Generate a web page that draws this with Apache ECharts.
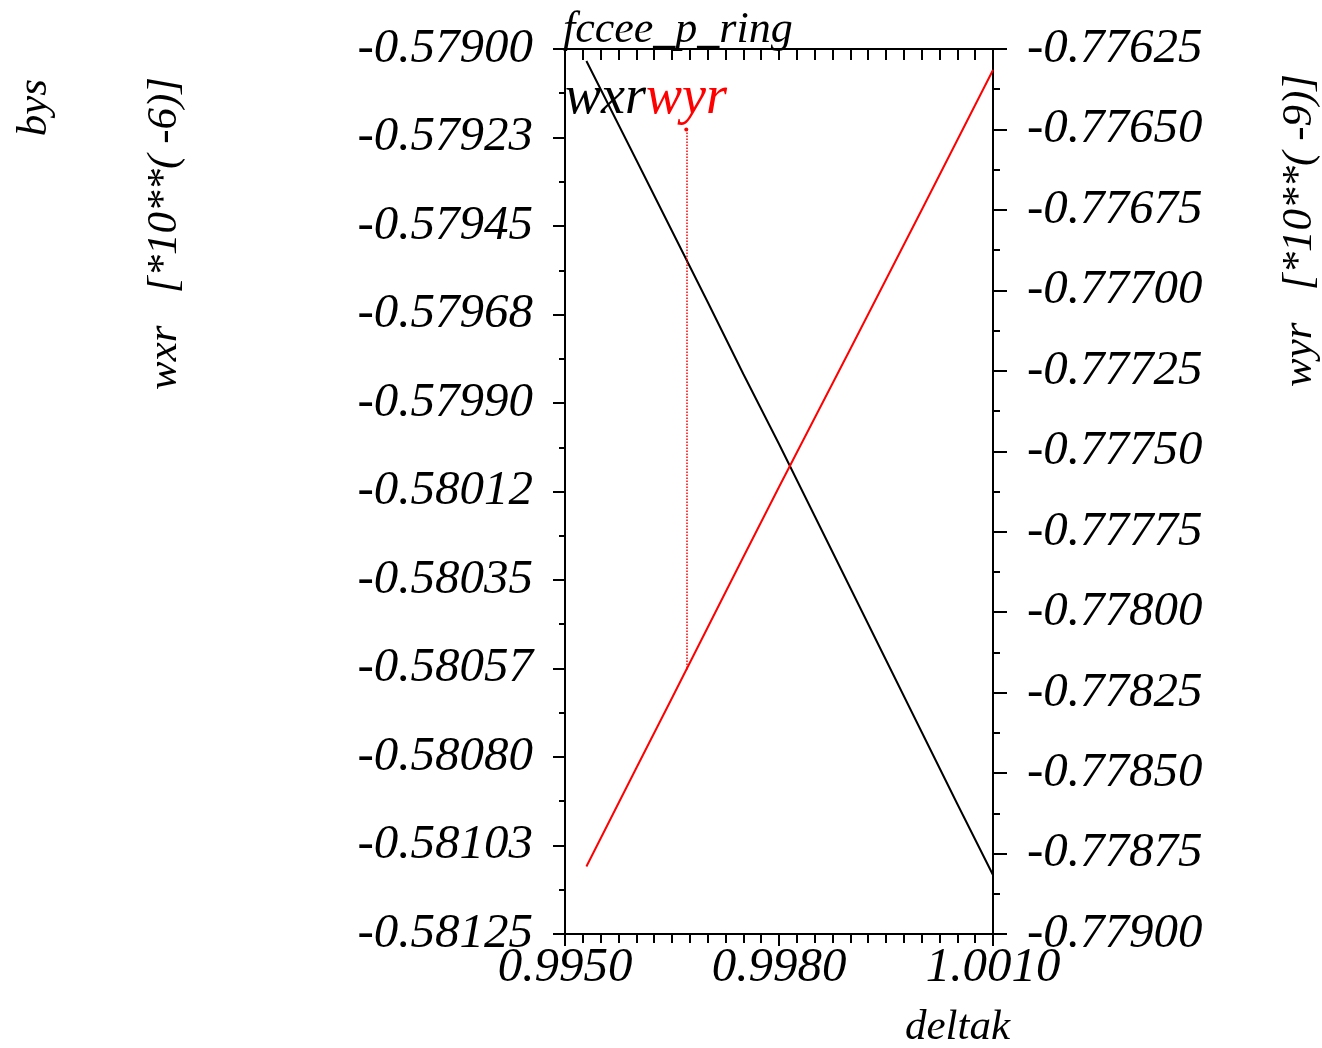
<!DOCTYPE html>
<html>
<head>
<meta charset="utf-8">
<script src="https://cdn.jsdelivr.net/npm/echarts@6/dist/echarts.min.js"></script>
<style>
  html, body { margin: 0; padding: 0; background: #fff; }
  #chart { width: 1322px; height: 1048px; }
</style>
</head>
<body>
<div id="chart"></div>
<script>
// deltak values and the two series
const deltak = [0.9953, 0.9960, 0.9965, 0.9970, 0.9975, 0.9980, 0.9985, 0.9990, 0.9995, 1.0000, 1.0005, 1.0010];
const wxr = [-0.5790305, -0.5792822, -0.5794627, -0.5796432, -0.5798263, -0.5800042,
             -0.5801873, -0.5803703, -0.5805534, -0.5807364, -0.5809195, -0.5811000];
const wyr = [-0.7787903, -0.7784842, -0.7782667, -0.7780476, -0.7778285, -0.7776110,
             -0.7773966, -0.7771822, -0.7769662, -0.7767503, -0.7765328, -0.7763153];

// tick labels (bottom to top / left to right)
const leftLabels = ['-0.58125', '-0.58103', '-0.58080', '-0.58057', '-0.58035', '-0.58012',
                    '-0.57990', '-0.57968', '-0.57945', '-0.57923', '-0.57900'];
const rightLabels = ['-0.77900', '-0.77875', '-0.77850', '-0.77825', '-0.77800', '-0.77775',
                     '-0.77750', '-0.77725', '-0.77700', '-0.77675', '-0.77650', '-0.77625'];
const xLabels = ['0.9950', '0.9980', '1.0010'];

// dotted pointer from the "wyr" label down to the curve
const pointerX = 0.9967;
const pointerTop = -0.7765;
const pointerBottom = -0.77818;

const FONT = '"Liberation Serif", "Times New Roman", serif';
const labelStyle = { fontFamily: FONT, fontStyle: 'italic', fontSize: 49, color: '#000' };
const axisLine = { show: true, lineStyle: { color: '#000', width: 2 } };
const tickLine = { color: '#000', width: 2 };

const chart = echarts.init(document.getElementById('chart'));

const xMin = 0.995, xMax = 1.001, xStep = 0.003, xMinorStep = 0.00025;
const lMin = -0.58125, lMax = -0.579, lStep = 0.000225;
const rMin = -0.779, rMax = -0.77625, rStep = 0.00025;

const pick = (labels, min, step) => (v) => labels[Math.round((v - min) / step)] || '';

chart.setOption({
  animation: false,
  backgroundColor: '#fff',
  grid: { left: 565, right: 329, top: 49, bottom: 114, containLabel: false },
  xAxis: [
    {
      type: 'value', position: 'bottom',
      min: xMin, max: xMax, interval: xStep,
      axisLine: axisLine,
      axisTick: { show: true, inside: false, length: 12, lineStyle: tickLine },
      minorTick: { show: true, splitNumber: 12, length: 9, lineStyle: tickLine },
      splitLine: { show: false },
      axisLabel: Object.assign({ margin: 10, interval: 0, showMinLabel: true, showMaxLabel: true,
        formatter: pick(xLabels, xMin, xStep) }, labelStyle)
    },
    {
      // top frame: ticks only, labels kept invisible
      type: 'value', position: 'top',
      min: xMin, max: xMax, interval: xMinorStep,
      axisLine: axisLine,
      axisTick: { show: true, inside: true, interval: 0, length: 11, lineStyle: tickLine },
      splitLine: { show: false },
      axisLabel: { show: true, interval: 0, fontSize: 8, color: 'rgba(0,0,0,0)', formatter: () => '.' }
    }
  ],
  yAxis: [
    {
      type: 'value', position: 'left',
      min: lMin, max: lMax, interval: lStep,
      axisLine: axisLine,
      axisTick: { show: true, inside: false, length: 12, lineStyle: tickLine },
      minorTick: { show: true, splitNumber: 2, length: 6, lineStyle: tickLine },
      splitLine: { show: false },
      axisLabel: Object.assign({ margin: 32, interval: 0, showMinLabel: true, showMaxLabel: true,
        formatter: pick(leftLabels, lMin, lStep) }, labelStyle)
    },
    {
      type: 'value', position: 'right',
      min: rMin, max: rMax, interval: rStep,
      axisLine: axisLine,
      axisTick: { show: true, inside: false, length: 14, lineStyle: tickLine },
      minorTick: { show: true, splitNumber: 2, length: 7, lineStyle: tickLine },
      splitLine: { show: false },
      axisLabel: Object.assign({ margin: 34, interval: 0, showMinLabel: true, showMaxLabel: true,
        formatter: pick(rightLabels, rMin, rStep) }, labelStyle)
    }
  ],
  series: [
    {
      name: 'wxr', type: 'line', xAxisIndex: 0, yAxisIndex: 0,
      data: deltak.map((d, i) => [d, wxr[i]]),
      showSymbol: false, symbol: 'none',
      lineStyle: { color: '#000', width: 2 }
    },
    {
      name: 'wyr', type: 'line', xAxisIndex: 0, yAxisIndex: 1,
      data: deltak.map((d, i) => [d, wyr[i]]),
      showSymbol: false, symbol: 'none',
      lineStyle: { color: '#ff0000', width: 2 },
      markLine: {
        silent: true,
        symbol: ['circle', 'none'], symbolSize: 4,
        label: { show: false },
        lineStyle: { color: '#ff0000', type: 'dotted', width: 1.5 },
        data: [[{ coord: [pointerX, pointerTop] }, { coord: [pointerX, pointerBottom] }]]
      }
    },
    {
      // empty series bound to the top axis so it is laid out like the others
      name: 'frame', type: 'line', xAxisIndex: 1, yAxisIndex: 0, data: [], silent: true
    }
  ],
  graphic: [
    { type: 'text', x: 563, y: 30,
      style: { text: 'fccee_p_ring', font: 'italic 44px ' + FONT, fill: '#000', align: 'left', verticalAlign: 'middle' } },
    { type: 'text', x: 565, y: 99,
      style: { text: '{a|wxr}{b|wyr}', font: 'italic 54px ' + FONT, align: 'left', verticalAlign: 'middle',
        rich: {
          a: { fill: '#000', font: 'italic 54px ' + FONT },
          b: { fill: '#ff0000', font: 'italic 54px ' + FONT }
        } } },
    { type: 'text', x: 35, y: 79, rotation: Math.PI / 2,
      style: { text: 'bys', font: 'italic 43px ' + FONT, fill: '#000', align: 'right', verticalAlign: 'middle' } },
    { type: 'text', x: 165, y: 77, rotation: Math.PI / 2,
      style: { text: 'wxr   [*10**( -6)]', font: 'italic 43px ' + FONT, fill: '#000', align: 'right', verticalAlign: 'middle' } },
    { type: 'text', x: 1300, y: 74, rotation: Math.PI / 2,
      style: { text: 'wyr   [*10**( -9)]', font: 'italic 43px ' + FONT, fill: '#000', align: 'right', verticalAlign: 'middle' } },
    { type: 'text', x: 1010, y: 1028,
      style: { text: 'deltak', font: 'italic 43px ' + FONT, fill: '#000', align: 'right', verticalAlign: 'middle' } }
  ]
});
</script>
</body>
</html>
